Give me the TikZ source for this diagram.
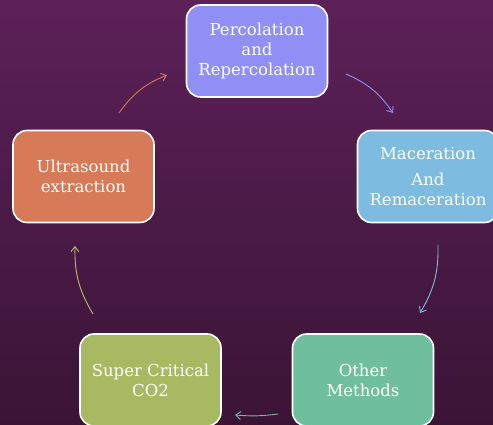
\documentclass[tikz,border=0pt]{standalone}
\usepackage{fontspec}
\setmainfont{DejaVu Serif}
\usetikzlibrary{arrows.meta}

\definecolor{bgtop}{RGB}{92,33,88}
\definecolor{bgmid}{RGB}{100,38,100}
\definecolor{bgbot}{RGB}{58,20,54}
\definecolor{percfill}{RGB}{143,143,246}
\definecolor{macfill}{RGB}{125,188,224}
\definecolor{ultrafill}{RGB}{214,122,87}
\definecolor{superfill}{RGB}{167,186,98}
\definecolor{otherfill}{RGB}{111,191,158}
\definecolor{superarr}{RGB}{184,195,96}

\begin{document}
\begin{tikzpicture}[x=1pt,y=1pt,
  stage/.style={draw=white,line width=1.6pt,rounded corners=14pt,minimum width=141pt,minimum height=92pt,
    align=center,text=white,inner sep=1pt,font=\fontsize{16.5}{20}\selectfont},
  arr/.style={draw,line width=0.9pt,-{Straight Barb[length=5pt,width=8pt]},bend left=16}]
  \useasboundingbox (0,0) rectangle (493,425);
  \clip (0,0) rectangle (493,425);
  \shade[top color=bgtop,middle color=bgmid,bottom color=bgbot] (0,0) rectangle (493,425);

  \node[stage,fill=percfill]  (perc)  at (257,374)   {Percolation\\and\\Repercolation};
  \node[stage,fill=macfill]   (mac)   at (428,248.5) {Maceration\\[6pt]And\\Remaceration};
  \node[stage,fill=otherfill] (other) at (363,45)    {Other\\Methods};
  \node[stage,fill=superfill] (super) at (150.5,45)  {Super Critical\\CO2};
  \node[stage,fill=ultrafill] (ultra) at (83.5,248.5) {Ultrasound\\extraction};

  \coordinate (a1s) at (346,351); \coordinate (a1e) at (393,312);
  \coordinate (a2s) at (438,180); \coordinate (a2e) at (420,112);
  \coordinate (a3s) at (278,11);  \coordinate (a3e) at (235,10);
  \coordinate (a4s) at (93,111);  \coordinate (a4e) at (75,179);
  \coordinate (a5s) at (119,312); \coordinate (a5e) at (167,350);

  \draw[arr,percfill]  (a1s) to (a1e);
  \draw[arr,macfill]   (a2s) to (a2e);
  \draw[arr,otherfill,bend left=6] (a3s) to (a3e);
  \draw[arr,superarr]  (a4s) to (a4e);
  \draw[arr,ultrafill] (a5s) to (a5e);
\end{tikzpicture}
\end{document}
